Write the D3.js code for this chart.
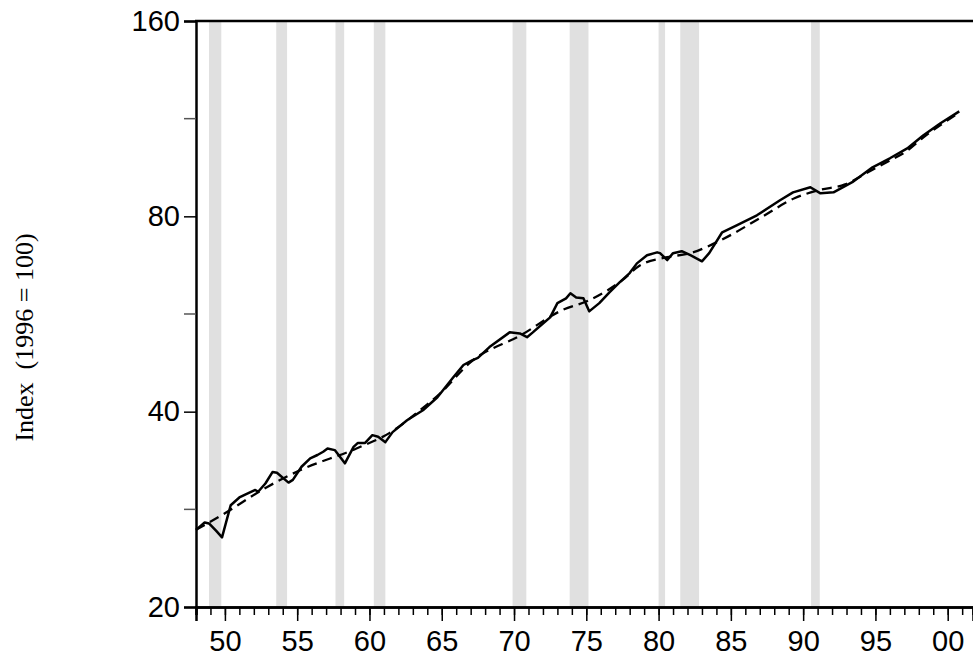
<!DOCTYPE html>
<html>
<head>
<meta charset="utf-8">
<script src="https://cdn.jsdelivr.net/npm/d3@7"></script>
<style>
  body { margin: 0; background: #fff; }
  svg { display: block; }
</style>
</head>
<body>
<div id="chart"></div>
<script>
const actualYears = [1948.0, 1948.6, 1948.9, 1949.4, 1949.8, 1950.4, 1951.0, 1951.4, 1952.1, 1952.3,
  1952.8, 1953.3, 1953.6, 1954.4, 1954.7, 1955.3, 1955.9, 1956.4, 1956.8, 1957.1,
  1957.6, 1958.3, 1958.9, 1959.2, 1959.7, 1960.2, 1960.6, 1961.1, 1961.6, 1962.6,
  1963.7, 1964.7, 1965.8, 1966.5, 1967.1, 1967.5, 1968.3, 1969.7, 1970.4, 1970.9,
  1971.3, 1972.0, 1972.5, 1973.0, 1973.6, 1973.9, 1974.3, 1974.8, 1975.2, 1975.9,
  1976.6, 1977.3, 1978.0, 1978.5, 1979.2, 1979.9, 1980.1, 1980.6, 1981.0, 1981.6,
  1982.2, 1983.0, 1983.5, 1984.4, 1985.4, 1986.8, 1988.4, 1989.3, 1990.5, 1991.2,
  1992.1, 1993.4, 1994.8, 1996.0, 1997.2, 1998.3, 1999.5, 2000.8];
const actualValues = [26.3, 27.0, 26.9, 26.2, 25.6, 28.7, 29.5, 29.8, 30.3, 30.1,
  31.0, 32.3, 32.2, 31.1, 31.4, 32.9, 33.9, 34.3, 34.7, 35.1,
  34.9, 33.3, 35.3, 35.8, 35.8, 36.8, 36.6, 35.9, 37.2, 38.8,
  40.2, 42.1, 45.2, 47.2, 48.0, 48.4, 50.3, 53.0, 52.8, 52.1,
  53.0, 54.7, 55.9, 58.8, 59.8, 60.9, 60.0, 59.8, 57.1, 58.8,
  61.1, 63.3, 65.4, 67.7, 69.7, 70.4, 70.2, 68.5, 70.2, 70.7,
  69.7, 68.2, 70.2, 75.6, 77.5, 80.3, 84.7, 87.1, 88.7, 86.8,
  87.1, 90.3, 95.2, 98.3, 101.8, 106.6, 111.3, 116.1];

// trend (dashed)
const trendYears = [1948.0, 1950.0, 1952.9, 1955.2, 1959.1, 1961.4, 1963.5, 1964.9, 1967.0, 1970.5,
  1973.3, 1975.2, 1977.5, 1978.7, 1980.6, 1982.2, 1984.3, 1987.1, 1989.4, 1991.0,
  1992.9, 1994.8, 1996.0, 1997.2, 1998.3, 1999.5, 2000.8];
const trendValues = [26.3, 27.9, 30.6, 32.5, 35.1, 37.1, 40.2, 42.7, 47.7, 52.5,
  57.3, 59.4, 63.8, 67.2, 69.2, 70.2, 73.5, 79.7, 85.3, 87.7,
  89.6, 94.4, 97.5, 101.0, 105.8, 110.6, 115.6];

// recession bands [start, end]
const recessionStart = [1948.9, 1953.55, 1957.65, 1960.3, 1969.9, 1973.85, 1980.0, 1981.5, 1990.55];
const recessionEnd   = [1949.75, 1954.3, 1958.25, 1961.1, 1970.85, 1975.15, 1980.45, 1982.8, 1991.15];

const yTicks = [20, 40, 80, 160];
const yMinorTicks = [28.28, 56.57, 113.14];
const xMajorTicks = [1950, 1955, 1960, 1965, 1970, 1975, 1980, 1985, 1990, 1995, 2000];
const yLabel = 'Index  (1996 = 100)';

const width = 973, height = 661;
const margin = {left: 196, top: 21, bottom: 54};

const svg = d3.select('#chart').append('svg')
  .attr('width', width)
  .attr('height', height);

const x = d3.scaleLinear()
  .domain([1948, 2001.75])
  .range([margin.left, width]);

const y = d3.scaleLog()
  .domain([20, 160])
  .range([height - margin.bottom, margin.top]);

// recession shading
svg.append('g')
  .selectAll('rect')
  .data(recessionStart.map((s, i) => [s, recessionEnd[i]]))
  .join('rect')
    .attr('x', d => x(d[0]))
    .attr('width', d => x(d[1]) - x(d[0]))
    .attr('y', y(160))
    .attr('height', y(20) - y(160))
    .attr('fill', '#e0e0e0');

// trend line, dashed
const trendLine = d3.line()
  .x(d => x(d[0]))
  .y(d => y(d[1]))
  .curve(d3.curveMonotoneX);

svg.append('path')
  .attr('d', trendLine(trendYears.map((t, i) => [t, trendValues[i]])))
  .attr('fill', 'none')
  .attr('stroke', '#000')
  .attr('stroke-width', 2.3)
  .attr('stroke-dasharray', '10,6');

// actual line
const actualLine = d3.line()
  .x(d => x(d[0]))
  .y(d => y(d[1]));

svg.append('path')
  .attr('d', actualLine(actualYears.map((t, i) => [t, actualValues[i]])))
  .attr('fill', 'none')
  .attr('stroke', '#000')
  .attr('stroke-width', 2.5)
  .attr('stroke-linejoin', 'round');

// x axis: minor yearly ticks plus labelled 5-year ticks
const xAxisMinor = d3.axisBottom(x)
  .tickValues(d3.range(1948, 2002))
  .tickSize(8)
  .tickFormat('');

const xAxisMajor = d3.axisBottom(x)
  .tickValues(xMajorTicks)
  .tickSize(14)
  .tickPadding(9)
  .tickFormat(d => String(d % 100).padStart(2, '0'));

const gxMinor = svg.append('g')
  .attr('transform', `translate(0,${y(20)})`)
  .call(xAxisMinor);
const gx = svg.append('g')
  .attr('transform', `translate(0,${y(20)})`)
  .call(xAxisMajor);

[gxMinor, gx].forEach(g => {
  g.select('.domain').attr('stroke-width', 2.5).attr('stroke', '#000');
  g.selectAll('.tick line').attr('stroke', '#000').attr('stroke-width', 1.5);
});
gx.selectAll('.tick text')
  .attr('font-family', 'Liberation Sans, Arial, sans-serif')
  .attr('font-size', 29)
  .attr('fill', '#000');

// y axis
const yAxis = d3.axisLeft(y)
  .tickValues(yTicks)
  .tickSize(12)
  .tickPadding(4)
  .tickFormat(d3.format('d'));

const gy = svg.append('g')
  .attr('transform', `translate(${margin.left},0)`)
  .call(yAxis);

gy.select('.domain').attr('stroke-width', 2.5).attr('stroke', '#000');
gy.selectAll('.tick line').attr('stroke', '#000').attr('stroke-width', 1.5);
gy.selectAll('.tick text')
  .attr('font-family', 'Liberation Sans, Arial, sans-serif')
  .attr('font-size', 29)
  .attr('fill', '#000');

gy.selectAll('.minor')
  .data(yMinorTicks)
  .join('line')
    .attr('class', 'minor')
    .attr('x1', -12)
    .attr('x2', 0)
    .attr('y1', d => y(d))
    .attr('y2', d => y(d))
    .attr('stroke', '#555')
    .attr('stroke-width', 1.5);

// top border
svg.append('line')
  .attr('x1', margin.left - 1)
  .attr('x2', width)
  .attr('y1', y(160))
  .attr('y2', y(160))
  .attr('stroke', '#000')
  .attr('stroke-width', 2.5);

// y label
svg.append('text')
  .attr('transform', `translate(33,${(232 + 443) / 2}) rotate(-90)`)
  .attr('text-anchor', 'middle')
  .attr('font-family', 'Liberation Serif, Times New Roman, serif')
  .attr('font-size', 26)
  .attr('fill', '#000')
  .attr('xml:space', 'preserve')
  .style('white-space', 'pre')
  .text(yLabel);
</script>
</body>
</html>
